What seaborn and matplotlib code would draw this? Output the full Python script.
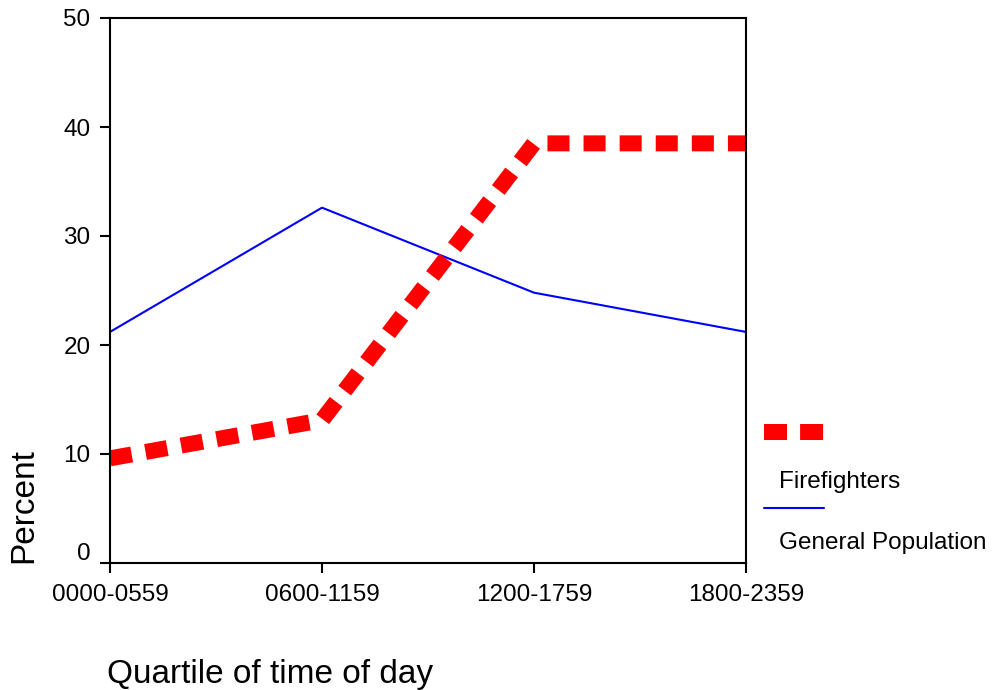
import matplotlib
matplotlib.use("Agg")
import matplotlib.pyplot as plt
import matplotlib.transforms as mtransforms
from matplotlib.lines import Line2D
import pandas as pd
import seaborn as sns

quartiles = ["0000-0559", "0600-1159", "1200-1759", "1800-2359"]
firefighters = [9.6, 13.1, 38.5, 38.5]
general_population = [21.2, 32.6, 24.8, 21.2]
y_ticks = [0, 10, 20, 30, 40, 50]

df = pd.DataFrame({"quartile": quartiles,
                   "Firefighters": firefighters,
                   "General Population": general_population})

sns.set_style("white")
plt.rcParams["font.family"] = ["Liberation Sans", "DejaVu Sans"]
plt.rcParams["text.color"] = "black"

W, H = 995, 690
fig = plt.figure(figsize=(W / 100, H / 100), dpi=100)
ax = fig.add_axes([110 / W, 1 - 563 / H, (746 - 110) / W, (563 - 18) / H])

# blue first so the thick red dashes sit on top
sns.lineplot(data=df, x="quartile", y="General Population", color="#0000ff",
             lw=1.5, ax=ax)
sns.lineplot(data=df, x="quartile", y="Firefighters", color="#ff0000",
             lw=11.5, linestyle=(0, (1.38, 0.88)), dash_capstyle="butt", ax=ax)

ax.set_xlim(0, len(quartiles) - 1)
ax.set_ylim(0, 50)
ax.set_yticks(y_ticks)
ax.set_xlabel("")
ax.set_ylabel("")

for sp in ax.spines.values():
    sp.set_visible(True)
    sp.set_color("black")
    sp.set_linewidth(1.5)
ax.tick_params(bottom=True, left=True, direction="out", length=7, width=1.5,
               color="black", labelsize=17.5, labelcolor="black")
ax.tick_params(axis="y", pad=7)
ax.tick_params(axis="x", pad=8)

# the "0" label sits a bit above its tick in the original
lab0 = ax.get_yticklabels()[0]
lab0.set_transform(lab0.get_transform() +
                   mtransforms.ScaledTranslation(0, 12 / 100, fig.dpi_scale_trans))

# legend, laid out like the original (labels below their keys)
fig.add_artist(Line2D([764 / W, 824 / W], [1 - 432 / H] * 2, transform=fig.transFigure,
                      color="#ff0000", lw=11.5, linestyle=(0, (1.44, 0.82)),
                      dash_capstyle="butt"))
fig.add_artist(Line2D([764 / W, 824 / W], [1 - 508 / H] * 2, transform=fig.transFigure,
                      color="#0000ff", lw=1.5))
fig.text(779 / W, 1 - 482 / H, "Firefighters", va="center", ha="left", fontsize=17.5)
fig.text(779 / W, 1 - 543 / H, "General Population", va="center", ha="left", fontsize=17.5)

fig.text(24 / W, 1 - 506 / H, "Percent", rotation=90, va="center", ha="center", fontsize=24)
fig.text(107 / W, 1 - 675 / H, "Quartile of time of day", va="center", ha="left", fontsize=24)

fig.savefig("out.png", dpi=100)
